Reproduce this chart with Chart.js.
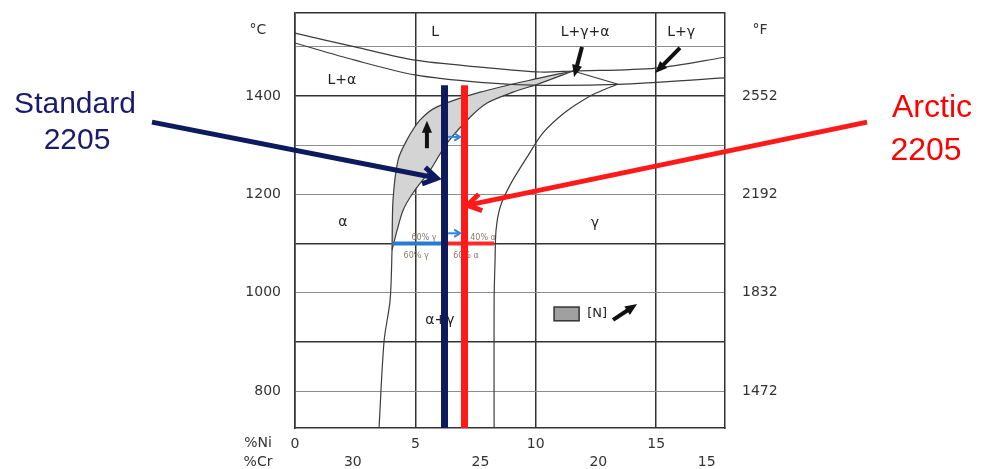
<!DOCTYPE html>
<html>
<head>
<meta charset="utf-8">
<script src="https://cdn.jsdelivr.net/npm/chart.js@4.4.0/dist/chart.umd.min.js"></script>
<style>
  body { margin: 0; background: #fff; }
</style>
</head>
<body>
<canvas id="myChart" width="988" height="469"></canvas>
<script>
// axes
var niMin = 0, niMax = 17.86;
var tMin = 725, tMax = 1569;
var niTicks = [0, 5, 10, 15];
var crTickPos = [2.4, 7.7, 12.6, 17.1];
var crTickLabels = ['30', '25', '20', '15'];
var gridTemps = [800, 900, 1000, 1100, 1200, 1300, 1400, 1500];
var tempTicks = [800, 1000, 1200, 1400];
var fahrenheitLabels = ['1472', '1832', '2192', '2552'];

// phase boundaries (%Ni, degC)
var liquidusNi = [0, 2.49, 4.99, 7.69, 10.18, 11.55, 15.0, 17.86];
var liquidusT = [1528, 1500, 1473, 1459, 1449, 1451, 1457, 1479];
var solidusNi = [0, 2.49, 4.99, 7.69, 10.18, 13.42, 17.86];
var solidusT = [1508, 1473, 1443, 1428, 1422, 1424, 1437];
var tieNi = [11.55, 13.42];
var tieT = [1451, 1424];
var gammaNi = [13.42, 12.88, 12.26, 11.22, 10.30, 9.64, 8.93, 8.52, 8.35, 8.31, 8.27, 8.27];
var gammaT = [1424, 1414, 1400, 1367, 1325, 1276, 1219, 1174, 1127, 1066, 985, 725];
var outerNi = [11.55, 10.18, 7.69, 5.90, 5.19, 4.65, 4.28, 4.07, 4.03, 3.95, 3.70, 3.49];
var outerT = [1451, 1437, 1408, 1378, 1351, 1311, 1270, 1188, 1087, 985, 902, 725];
var innerNi = [11.55, 10.18, 9.06, 7.98, 7.27, 6.31, 5.61, 4.90, 4.49, 4.24, 4.03];
var innerT = [1451, 1426, 1408, 1386, 1357, 1304, 1249, 1203, 1168, 1127, 1087];

// the two grades
var standardNi = 6.21;
var arcticNi = 7.04;
var gradeTop = 1422;
var tieLineT = 1100;
var blueTieNi = [4.07, 6.21];
var redTieNi = [6.21, 8.27];

// labels inside the diagram
var phaseLabels = ['L', 'L+γ+α', 'L+γ', 'L+α', 'α', 'γ', 'α+γ'];
var phaseLabelNi = [5.82, 12.05, 16.04, 1.95, 1.99, 12.46, 6.02];
var phaseLabelT = [1530, 1530, 1530, 1433, 1144, 1142, 944];
var smallLabels = ['60% γ', '60% γ', '40% α', '60% α'];
var smallLabelNi = [5.36, 5.03, 7.81, 7.10];
var smallLabelT = [1111, 1075, 1111, 1075];

// arrows [ni1, t1, ni2, t2]
var blackArrows = [[11.92, 1500, 11.59, 1439], [15.99, 1498, 14.96, 1447], [5.48, 1294, 5.48, 1350], [13.21, 945, 14.21, 977]];
var blueArrows = [[6.36, 1317, 6.86, 1317], [6.36, 1121, 6.86, 1121]];
var standardArrow = [-5.94, 1347, 5.9, 1233];
var arcticArrow = [23.76, 1347, 7.15, 1178];

function pts(xs, ys) {
  return xs.map(function (x, i) { return { x: x, y: ys[i] }; });
}

var grayNi = outerNi.slice(0, 9).concat(innerNi.slice(0, 10).reverse());
var grayT = outerT.slice(0, 9).concat(innerT.slice(0, 10).reverse());

function curve(xs, ys, tension) {
  return {
    data: pts(xs, ys), showLine: true, pointRadius: 0, borderColor: '#3c3c3c',
    borderWidth: 1.2, tension: tension, fill: false, order: 5
  };
}

function arrow(ctx, x1, y1, x2, y2, color, width, head, open) {
  var a = Math.atan2(y2 - y1, x2 - x1);
  ctx.save();
  ctx.strokeStyle = color;
  ctx.fillStyle = color;
  ctx.lineWidth = width;
  if (open) {
    ctx.lineCap = 'butt';
    ctx.beginPath(); ctx.moveTo(x1, y1); ctx.lineTo(x2 - Math.cos(a) * 2, y2 - Math.sin(a) * 2); ctx.stroke();
    ctx.lineJoin = 'miter';
    ctx.beginPath();
    ctx.moveTo(x2 - head * Math.cos(a - 0.55), y2 - head * Math.sin(a - 0.55));
    ctx.lineTo(x2, y2);
    ctx.lineTo(x2 - head * Math.cos(a + 0.55), y2 - head * Math.sin(a + 0.55));
    ctx.stroke();
  } else {
    var bx = x2 - head * 0.8 * Math.cos(a), by = y2 - head * 0.8 * Math.sin(a);
    ctx.beginPath(); ctx.moveTo(x1, y1); ctx.lineTo(bx, by); ctx.stroke();
    ctx.beginPath();
    ctx.moveTo(x2, y2);
    ctx.lineTo(x2 - head * Math.cos(a - 0.4), y2 - head * Math.sin(a - 0.4));
    ctx.lineTo(x2 - head * Math.cos(a + 0.4), y2 - head * Math.sin(a + 0.4));
    ctx.closePath();
    ctx.fill();
  }
  ctx.restore();
}

var textPlugin = {
  id: 'diagramText',
  beforeDatasetsDraw: function (chart) {
    var ctx = chart.ctx, x = chart.scales.x, y = chart.scales.y;
    ctx.save();
    ctx.textAlign = 'center';
    ctx.textBaseline = 'middle';
    ctx.fillStyle = '#222';
    ctx.font = '14px "DejaVu Sans"';
    phaseLabels.forEach(function (s, i) {
      ctx.fillText(s, x.getPixelForValue(phaseLabelNi[i]), y.getPixelForValue(phaseLabelT[i]));
    });
    ctx.font = '8px "DejaVu Sans"';
    ctx.fillStyle = '#8a7b6c';
    smallLabels.forEach(function (s, i) {
      ctx.fillText(s, x.getPixelForValue(smallLabelNi[i]), y.getPixelForValue(smallLabelT[i]));
    });
    // [N] legend
    ctx.fillStyle = '#a0a0a0';
    ctx.strokeStyle = '#333';
    ctx.lineWidth = 1.5;
    var bx1 = x.getPixelForValue(10.76), bx2 = x.getPixelForValue(11.80);
    var by1 = y.getPixelForValue(971), by2 = y.getPixelForValue(943);
    ctx.fillRect(bx1, by1, bx2 - bx1, by2 - by1);
    ctx.strokeRect(bx1, by1, bx2 - bx1, by2 - by1);
    ctx.fillStyle = '#222';
    ctx.font = '13px "DejaVu Sans"';
    ctx.fillText('[N]', x.getPixelForValue(12.55), y.getPixelForValue(957));
    ctx.restore();
  },
  afterDatasetsDraw: function (chart) {
    var ctx = chart.ctx, x = chart.scales.x, y = chart.scales.y;
    function p(a) {
      return [x.getPixelForValue(a[0]), y.getPixelForValue(a[1]), x.getPixelForValue(a[2]), y.getPixelForValue(a[3])];
    }
    blackArrows.forEach(function (a) {
      var q = p(a);
      arrow(ctx, q[0], q[1], q[2], q[3], '#111', 4, 13, false);
    });
    blueArrows.forEach(function (a) {
      var q = p(a);
      arrow(ctx, q[0], q[1], q[2], q[3], '#2a86e0', 2, 7, true);
    });
    var s = p(standardArrow);
    arrow(ctx, s[0], s[1], s[2], s[3], '#0d1a5e', 5, 16, true);
    var r = p(arcticArrow);
    arrow(ctx, r[0], r[1], r[2], r[3], '#ff1a1a', 5, 16, true);
  },
  afterDraw: function (chart) {
    var ctx = chart.ctx, area = chart.chartArea;
    ctx.save();
    ctx.fillStyle = '#333';
    ctx.font = '14px "DejaVu Sans"';
    ctx.textAlign = 'center';
    ctx.textBaseline = 'middle';
    ctx.fillText('°C', area.left - 37, 30);
    ctx.fillText('°F', area.right + 35, 30);
    ctx.fillText('%Ni', area.left - 37, 443);
    ctx.fillText('%Cr', area.left - 37, 462);
    ctx.fillStyle = '#1a1a6e';
    ctx.font = '30px "Liberation Sans"';
    ctx.fillText('Standard', 75, 105);
    ctx.fillText('2205', 77, 141);
    ctx.fillStyle = '#ff0000';
    ctx.font = '32px "Liberation Sans"';
    ctx.fillText('Arctic', 932, 108);
    ctx.fillText('2205', 926, 151);
    ctx.restore();
  }
};

Chart.defaults.font.family = '"DejaVu Sans"';
Chart.defaults.font.size = 14;
Chart.defaults.color = '#333';

var darkTemps = [1100, 1400, 900, tMax];

function noPadY(s, w) {
  s.width = w;
  s.paddingTop = 0;
  s.paddingBottom = 0;
}
function noPadX(s, h) {
  s.height = h;
  s.paddingLeft = 0;
  s.paddingRight = 0;
}

new Chart('myChart', {
  type: 'scatter',
  data: {
    datasets: [
      {
        data: pts(grayNi, grayT), showLine: true, pointRadius: 0, borderWidth: 0,
        backgroundColor: '#d4d4d4', fill: 'shape', tension: 0.3, order: 10
      },
      curve(liquidusNi, liquidusT, 0.3),
      curve(solidusNi, solidusT, 0.3),
      curve(tieNi, tieT, 0),
      curve(gammaNi, gammaT, 0.3),
      curve(outerNi, outerT, 0.3),
      curve(innerNi, innerT, 0.3),
      {
        data: pts(blueTieNi, [tieLineT, tieLineT]), showLine: true, pointRadius: 0,
        borderColor: '#2a7ad4', borderWidth: 4, order: 3
      },
      {
        data: pts(redTieNi, [tieLineT, tieLineT]), showLine: true, pointRadius: 0,
        borderColor: '#ff2a2a', borderWidth: 4, order: 3
      },
      {
        data: pts([standardNi, standardNi], [gradeTop, tMin]), showLine: true, pointRadius: 0,
        borderColor: '#0d1a5e', borderWidth: 7, borderCapStyle: 'butt', order: 1
      },
      {
        data: pts([arcticNi, arcticNi], [gradeTop, tMin]), showLine: true, pointRadius: 0,
        borderColor: '#ff1a1a', borderWidth: 7, borderCapStyle: 'butt', order: 1
      }
    ]
  },
  options: {
    responsive: false,
    animation: false,
    devicePixelRatio: 1,
    layout: { padding: { top: 13, left: 0, right: 0, bottom: 0 } },
    plugins: { legend: { display: false }, tooltip: { enabled: false } },
    scales: {
      x: {
        type: 'linear', position: 'bottom', min: niMin, max: niMax, weight: 0,
        afterBuildTicks: function (s) { s.ticks = niTicks.map(function (v) { return { value: v }; }); },
        afterFit: function (s) { noPadX(s, 22); },
        ticks: { autoSkip: false, padding: 8, maxRotation: 0 },
        grid: { color: '#333', lineWidth: 1.5, drawTicks: false },
        border: { display: true, color: '#333', width: 1.5 }
      },
      x2: {
        type: 'linear', position: 'bottom', min: niMin, max: niMax, weight: 1,
        afterBuildTicks: function (s) { s.ticks = crTickPos.map(function (v) { return { value: v }; }); },
        afterFit: function (s) { noPadX(s, 19); },
        ticks: {
          autoSkip: false, padding: 4, maxRotation: 0,
          callback: function (v, i) { return crTickLabels[i]; }
        },
        grid: { display: false, drawTicks: false },
        border: { display: false }
      },
      y: {
        type: 'linear', position: 'left', min: tMin, max: tMax,
        afterBuildTicks: function (s) {
          s.ticks = gridTemps.concat([tMax]).map(function (v) { return { value: v }; });
        },
        afterFit: function (s) { noPadY(s, 295); },
        ticks: {
          autoSkip: false, padding: 14,
          callback: function (v) { return tempTicks.indexOf(v) >= 0 ? String(v) : ''; }
        },
        grid: {
          drawTicks: false,
          color: function (c) { return darkTemps.indexOf(c.tick.value) >= 0 ? '#333' : '#8c8c8c'; },
          lineWidth: function (c) { return darkTemps.indexOf(c.tick.value) >= 0 ? 1.5 : 1; }
        },
        border: { display: true, color: '#333', width: 1.5 }
      },
      y2: {
        type: 'linear', position: 'right', min: tMin, max: tMax,
        afterBuildTicks: function (s) { s.ticks = tempTicks.map(function (v) { return { value: v }; }); },
        afterFit: function (s) { noPadY(s, 263); },
        ticks: {
          autoSkip: false, padding: 17,
          callback: function (v, i) { return fahrenheitLabels[i]; }
        },
        grid: { display: false, drawTicks: false },
        border: { display: true, color: '#333', width: 1.5 }
      }
    }
  },
  plugins: [textPlugin]
});
</script>
</body>
</html>
